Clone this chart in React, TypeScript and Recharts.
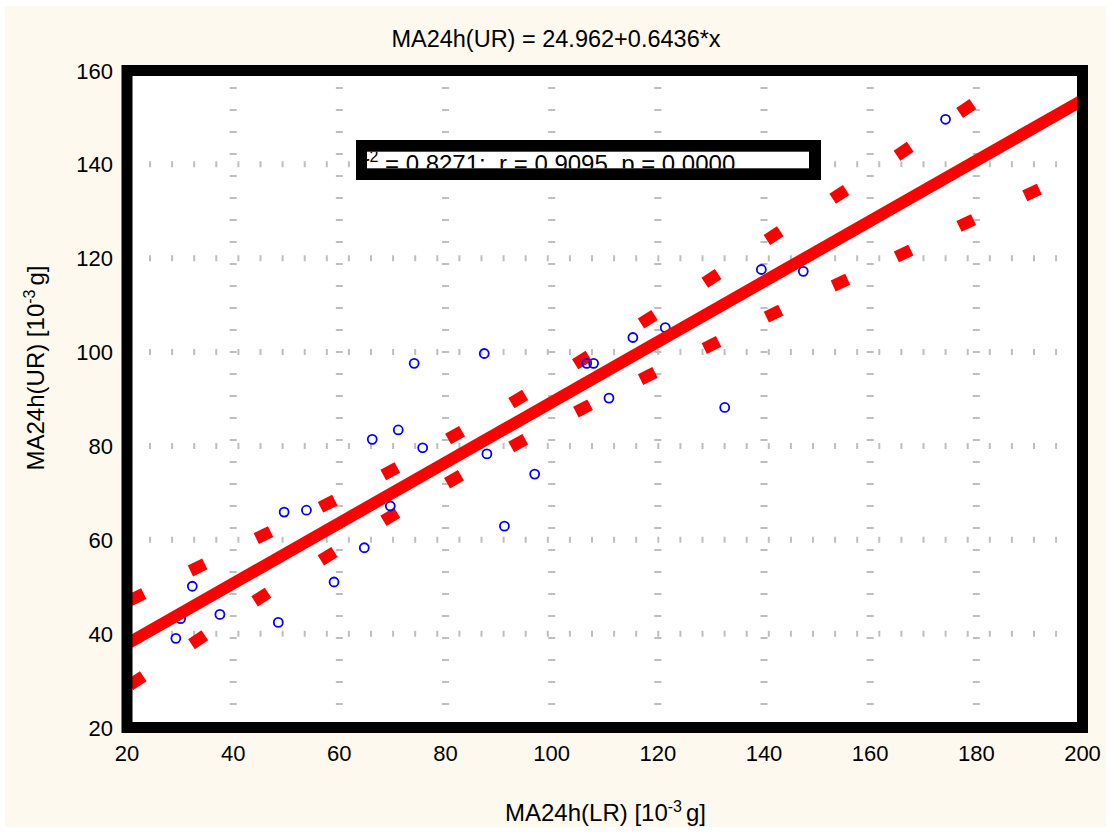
import React from 'react';
import { ScatterChart, Scatter, XAxis, YAxis, CartesianGrid } from 'recharts';

// ---- data ----
const xTicks = [20, 40, 60, 80, 100, 120, 140, 160, 180, 200];
const yTicks = [20, 40, 60, 80, 100, 120, 140, 160];

const obsX = [29.2, 30.1, 32.3, 37.5, 48.5, 49.6, 53.8, 59.0, 64.7, 69.6, 66.2, 71.1, 74.1, 75.7, 87.3, 87.8, 91.1, 96.8, 106.6, 107.9, 110.8, 115.3, 121.4, 132.6, 139.5, 147.4, 174.2];
const obsY = [39.0, 43.2, 50.1, 44.1, 42.4, 65.9, 66.3, 51.0, 58.3, 67.2, 81.4, 83.4, 97.6, 79.6, 99.7, 78.3, 62.9, 74.0, 97.6, 97.6, 90.2, 103.1, 105.2, 88.2, 117.6, 117.2, 149.6];

const upperX = [21.8, 33.3, 45.7, 57.8, 69.6, 81.8, 93.7, 105.7, 118.1, 130.1, 141.8, 154.2, 166.3, 178.1];
const upperY = [47.8, 54.1, 61.0, 67.7, 74.6, 82.3, 90.0, 98.3, 107.0, 115.7, 124.8, 133.6, 142.8, 151.9];
const lowerX = [21.8, 33.4, 45.3, 57.8, 69.6, 81.6, 93.7, 105.9, 118.1, 130.1, 141.8, 154.4, 166.3, 178.1, 190.5];
const lowerY = [30.0, 38.7, 47.8, 56.5, 64.9, 72.9, 80.6, 88.0, 94.9, 101.5, 108.2, 114.8, 121.0, 127.5, 134.0];

const fitX = [20, 200];
const fitY = [37.83, 153.68];

const titleText = 'MA24h(UR) = 24.962+0.6436*x';
const statText = ' = 0.8271;  r = 0.9095, p = 0.0000';

// ---- layout ----
const W = 1111;
const H = 832;
const M = { top: 70.5, right: 28.5, bottom: 64.5, left: 27 };
const YAXIS_W = 100;
const XAXIS_H = 40;
const PL = M.left + YAXIS_W;
const PT = M.top;
const PW = W - M.left - M.right - YAXIS_W;
const PH = H - M.top - M.bottom - XAXIS_H;
const K = (PH / 140) / (PW / 180);
const FONT = '"Liberation Sans", Arial, sans-serif';

const obsData = obsX.map((x, i) => ({ x, y: obsY[i] }));
const fitData = fitX.map((x, i) => ({ x, y: fitY[i] }));

function bandData(xs: number[], ys: number[]) {
  return xs.map((x, i) => {
    const a = Math.max(0, i - 1);
    const b = Math.min(xs.length - 1, i + 1);
    const slope = (ys[b] - ys[a]) / (xs[b] - xs[a]);
    return { x, y: ys[i], angle: (Math.atan(slope * K) * 180) / Math.PI };
  });
}
const upperData = bandData(upperX, upperY);
const lowerData = bandData(lowerX, lowerY);

const DashShape = (p: any) => {
  const ang = p.payload?.angle ?? 30;
  return (
    <rect
      x={p.cx - 8}
      y={p.cy - 6}
      width={16}
      height={12}
      fill="#FF0000"
      transform={`rotate(${-ang} ${p.cx} ${p.cy})`}
    />
  );
};

const CircleShape = (p: any) => (
  <circle cx={p.cx} cy={p.cy} r={4.5} fill="none" stroke="#0000FF" strokeWidth={1.8} />
);

const NoShape = () => <g />;

const XTick = (p: any) => (
  <text x={p.x} y={p.y + 33.5} textAnchor="middle" fontSize={22} fontFamily={FONT} fill="#000">
    {p.payload.value}
  </text>
);
const YTick = (p: any) => (
  <text x={p.x - 14} y={p.y + 8} textAnchor="end" fontSize={22} fontFamily={FONT} fill="#000">
    {p.payload.value}
  </text>
);

const vDash = '0 16.5 ' + Array(32).fill('2 20').join(' ');
const hDash = '0 22 ' + Array(46).fill('2 20.1').join(' ');

export default function App() {
  return (
    <div style={{ position: 'absolute', left: 0, top: 0, width: W, height: H, background: '#FFFFFF' }}>
      <div style={{ position: 'absolute', left: 5, top: 6, width: 1101, height: 821, background: '#FDF9EE' }} />
      <div style={{ position: 'absolute', left: 0, top: 0 }}>
        <ScatterChart width={W} height={H} margin={M}>
          <CartesianGrid
            horizontal={false}
            fill="#FFFFFF"
            stroke="#BEBEBE"
            strokeWidth={7}
            strokeDasharray={vDash}
          />
          <CartesianGrid vertical={false} stroke="#BEBEBE" strokeWidth={6} strokeDasharray={hDash} />
          <XAxis
            type="number"
            dataKey="x"
            domain={[20, 200]}
            ticks={xTicks}
            allowDataOverflow
            axisLine={false}
            tickLine={false}
            tickSize={0}
            tickMargin={0}
            height={XAXIS_H}
            tick={<XTick />}
            interval={0}
          />
          <YAxis
            type="number"
            dataKey="y"
            domain={[20, 160]}
            ticks={yTicks}
            allowDataOverflow
            axisLine={false}
            tickLine={false}
            tickSize={0}
            tickMargin={0}
            width={YAXIS_W}
            tick={<YTick />}
            interval={0}
          />
          <Scatter data={upperData} shape={DashShape} isAnimationActive={false} />
          <Scatter data={lowerData} shape={DashShape} isAnimationActive={false} />
          <Scatter data={obsData} shape={CircleShape} isAnimationActive={false} />
          <Scatter
            data={fitData}
            line={{ stroke: '#FF0000', strokeWidth: 12 }}
            lineType="joint"
            shape={NoShape}
            isAnimationActive={false}
          />
        </ScatterChart>
      </div>
      <svg
        width={W}
        height={H}
        style={{ position: 'absolute', left: 0, top: 0, pointerEvents: 'none' }}
      >
        <defs>
          <clipPath id="statClip">
            <rect x={367} y={151.7} width={442} height={16.6} />
          </clipPath>
        </defs>
        <rect x={PL} y={PT} width={PW} height={PH} fill="none" stroke="#000" strokeWidth={11} />
        <rect x={356} y={140} width={465} height={40} fill="#000" />
        <rect x={367} y={151.7} width={442} height={16.6} fill="#FFFFFF" />
        <g clipPath="url(#statClip)">
          <text x={361.4} y={171.5} fontSize={24} fontFamily={FONT} fill="#000" xmlSpace="preserve" style={{ whiteSpace: 'pre' }}>
            <tspan>r</tspan>
            <tspan fontSize={16} dy={-10}>2</tspan>
            <tspan dy={10}>{statText}</tspan>
          </text>
        </g>
        <text x={556} y={47} textAnchor="middle" fontSize={23.5} fontFamily={FONT} fill="#000">
          {titleText}
        </text>
        <text x={605.5} y={821} textAnchor="middle" fontSize={24} fontFamily={FONT} fill="#000">
          <tspan>MA24h(LR) [10</tspan>
          <tspan fontSize={16} dy={-9}>-3</tspan>
          <tspan dy={9} dx={4}>g]</tspan>
        </text>
        <text
          transform="translate(44,368) rotate(-90)"
          textAnchor="middle"
          fontSize={24}
          fontFamily={FONT}
          fill="#000"
        >
          <tspan>MA24h(UR) [10</tspan>
          <tspan fontSize={16} dy={-9}>-3</tspan>
          <tspan dy={9} dx={4}>g]</tspan>
        </text>
      </svg>
    </div>
  );
}
